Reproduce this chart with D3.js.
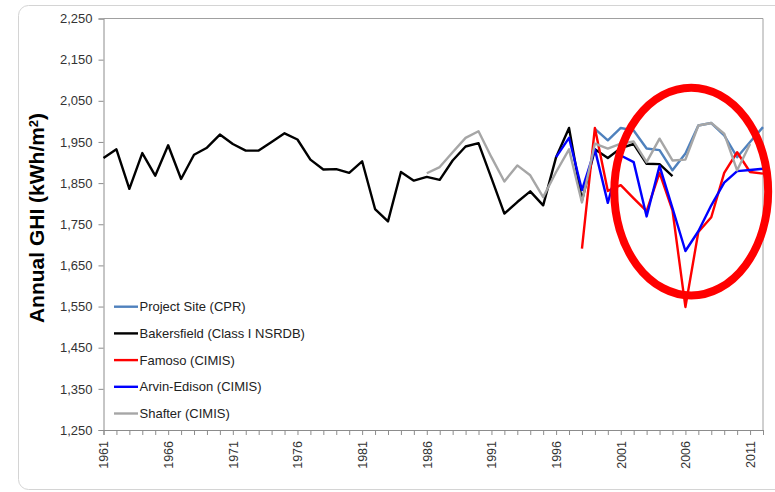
<!DOCTYPE html>
<html>
<head>
<meta charset="utf-8">
<script src="https://cdn.jsdelivr.net/npm/d3@7"></script>
<style>
html,body{margin:0;padding:0;background:#fff;}
svg text{font-family:"Liberation Sans",Arial,sans-serif;}
</style>
</head>
<body>
<svg id="chart" width="775" height="492"></svg>
<script>
const years = d3.range(1961, 2013);
const yTicks = [1250,1350,1450,1550,1650,1750,1850,1950,2050,2150,2250];
const xLabelYears = [1961,1966,1971,1976,1981,1986,1991,1996,2001,2006,2011];

const seriesNames = ["Project Site (CPR)","Bakersfield (Class I NSRDB)","Famoso (CIMIS)","Arvin-Edison (CIMIS)","Shafter (CIMIS)"];
const seriesColors = ["#4f81bd","#000000","#ff0000","#0000ff","#a6a6a6"];

// values with start year
const projectSiteStart = 1999;
const projectSite = [1982,1954,1984,1978,1934,1930,1881,1922,1990,1996,1966,1913,1950,1986];
const bakersfieldStart = 1961;
const bakersfield = [1911,1932,1836,1923,1868,1942,1860,1919,1936,1968,1945,1929,1929,1950,1971,1956,1907,1883,1884,1875,1903,1787,1757,1877,1856,1865,1858,1905,1939,1947,1862,1776,1804,1830,1796,1913,1984,1808,1932,1911,1935,1945,1897,1896,1867];
const famosoStart = 1998;
const famoso = [1691,1984,1831,1845,1813,1782,1875,1784,1549,1731,1767,1875,1925,1877,1873];
const arvinStart = 1996;
const arvin = [1913,1960,1833,1932,1802,1917,1901,1769,1892,1789,1685,1733,1796,1851,1879,1882,1885];
const shafterStart = 1986;
const shafter = [1874,1889,1925,1960,1976,1913,1854,1893,1869,1816,1877,1932,1803,1946,1934,1946,1951,1901,1958,1905,1907,1990,1996,1970,1881,1945];

const seriesData = [
  [projectSiteStart, projectSite],
  [bakersfieldStart, bakersfield],
  [famosoStart, famoso],
  [arvinStart, arvin],
  [shafterStart, shafter]
].map(([s, vals]) => vals.map((v, i) => ({year: s + i, value: v})));

// annotation ellipse bounds in data units
const ellipseYears = [2000.5, 2012.4];
const ellipseValues = [1577, 2082];

const svg = d3.select("#chart");
const pLeft = 103.5, pRight = 763, pTop = 18.5, pBottom = 430;

const x = d3.scaleLinear().domain([1961, 2012]).range([pLeft, pRight]);
const y = d3.scaleLinear().domain([1250, 2250]).range([pBottom, pTop]);

// outer frame
svg.append("rect").attr("x",18.5).attr("y",5.5).attr("width",800).attr("height",484)
  .attr("rx",10).attr("fill","none").attr("stroke","#d4d4d4").attr("stroke-width",1);

// plot border (top/right)
svg.append("path").attr("d",`M${pLeft},${pTop}H${pRight}V${pBottom}`)
  .attr("fill","none").attr("stroke","#a0a0a0").attr("stroke-width",1);

// y axis
const yAxis = svg.append("g").attr("transform",`translate(${pLeft},0)`)
  .call(d3.axisLeft(y).tickValues(yTicks).tickFormat(d3.format(",")).tickSizeOuter(0).tickSize(5).tickPadding(6));
yAxis.select(".domain").attr("stroke","#8c8c8c");
yAxis.selectAll(".tick line").attr("stroke","#8c8c8c");
yAxis.selectAll("text").attr("fill","#333").style("font-size","13px");

// x axis
const xAxis = svg.append("g").attr("transform",`translate(0,${pBottom})`)
  .call(d3.axisBottom(x).tickValues(years).tickSizeOuter(0).tickSize(5)
    .tickFormat(d => xLabelYears.includes(d) ? String(d) : ""));
xAxis.select(".domain").attr("stroke","#8c8c8c");
xAxis.selectAll(".tick line").attr("stroke","#8c8c8c");
xAxis.selectAll("text")
  .attr("transform","rotate(-90)")
  .attr("x",-11).attr("y",0).attr("dy","0.35em")
  .style("text-anchor","end").style("font-size","12.5px").attr("fill","#333");

// y title
const title = svg.append("text").attr("transform","translate(44,218) rotate(-90)")
  .attr("text-anchor","middle").style("font-size","21px").style("font-weight","bold").attr("fill","#000");
title.append("tspan").text("Annual GHI (kWh/m");
title.append("tspan").text("2").attr("dy","-0.5em").style("font-size","13px");
title.append("tspan").text(")").attr("dy","0.32em");

// lines
const line = d3.line().x(d => x(d.year)).y(d => y(d.value));
seriesData.forEach((data, i) => {
  svg.append("path").datum(data).attr("d", line)
    .attr("fill","none").attr("stroke",seriesColors[i]).attr("stroke-width",2.4)
    .attr("stroke-linejoin","round");
});

// legend
const legend = svg.append("g");
seriesNames.forEach((name, i) => {
  const ly = 306.7 + i * 26.7;
  legend.append("line").attr("x1",114).attr("x2",138).attr("y1",ly).attr("y2",ly)
    .attr("stroke",seriesColors[i]).attr("stroke-width",2.4);
  legend.append("text").attr("x",139.5).attr("y",ly).attr("dy","0.35em")
    .style("font-size","13px").attr("fill","#222").text(name);
});

// annotation ellipse
const ex0 = x(ellipseYears[0]), ex1 = x(ellipseYears[1]);
const ey0 = y(ellipseValues[1]), ey1 = y(ellipseValues[0]);
svg.append("ellipse")
  .attr("cx",(ex0+ex1)/2).attr("cy",(ey0+ey1)/2)
  .attr("rx",(ex1-ex0)/2).attr("ry",(ey1-ey0)/2)
  .attr("fill","none").attr("stroke","#ff0000").attr("stroke-width",8);
</script>
</body>
</html>
